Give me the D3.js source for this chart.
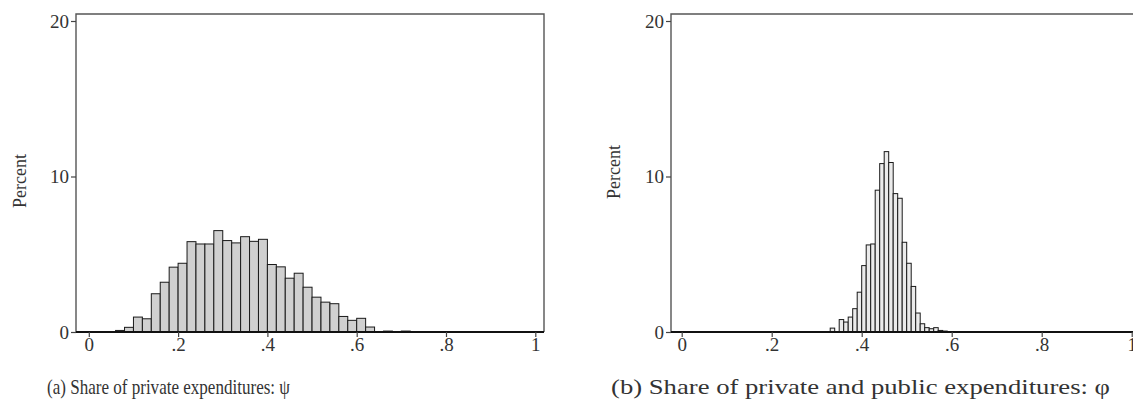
<!DOCTYPE html>
<html>
<head>
<meta charset="utf-8">
<script src="https://cdn.jsdelivr.net/npm/d3@7"></script>
<style>
  html, body { margin: 0; padding: 0; background: #fff; }
  svg { display: block; }
  text { font-family: "Liberation Serif", "DejaVu Serif", serif; fill: #333; }
</style>
</head>
<body>
<svg id="chart" width="1133" height="413"></svg>
<script>
// ---- Data (percent per bin) ----
const leftBinWidth = 0.02;
const leftBinStarts = [0.06, 0.08, 0.10, 0.12, 0.14, 0.16, 0.18, 0.20, 0.22, 0.24, 0.26, 0.28, 0.30, 0.32, 0.34, 0.36, 0.38, 0.40, 0.42, 0.44, 0.46, 0.48, 0.50, 0.52, 0.54, 0.56, 0.58, 0.60, 0.62, 0.64, 0.66, 0.70];
const leftPercent   = [0.10, 0.30, 0.96, 0.85, 2.46, 3.20, 4.17, 4.42, 5.81, 5.66, 5.66, 6.52, 5.88, 5.73, 6.13, 5.83, 5.96, 4.34, 4.19, 3.46, 3.78, 2.88, 2.24, 1.92, 1.82, 1.00, 0.75, 0.88, 0.32, 0.03, 0.06, 0.06];

const rightBinWidth = 0.01;
const rightBinStarts = [0.33, 0.35, 0.36, 0.37, 0.38, 0.39, 0.40, 0.41, 0.42, 0.43, 0.44, 0.45, 0.46, 0.47, 0.48, 0.49, 0.50, 0.51, 0.52, 0.53, 0.54, 0.55, 0.56, 0.57, 0.58];
const rightPercent   = [0.25, 0.80, 0.64, 0.96, 1.50, 2.56, 4.27, 5.60, 5.66, 9.12, 10.83, 11.60, 10.90, 8.90, 8.60, 5.77, 4.42, 2.93, 1.22, 0.53, 0.28, 0.21, 0.28, 0.10, 0.06];

const yTicks = [0, 10, 20];
const xTicks = [0, 0.2, 0.4, 0.6, 0.8, 1];
const xTickLabels = ["0", ".2", ".4", ".6", ".8", "1"];
const yTitle = "Percent";
const captions = ["(a) Share of private expenditures: \u03C8", "(b) Share of private and public expenditures: \u03C6"];

// ---- Drawing ----
const svg = d3.select("#chart");

const panels = [
  { starts: leftBinStarts, values: leftPercent, bw: leftBinWidth,
    frame: [76, 544], xr: [88.8, 535.3], fill: "#d0d0d0",
    titleX: 20, titleY: 181, caption: captions[0], capX: 47, capW: 243 },
  { starts: rightBinStarts, values: rightPercent, bw: rightBinWidth,
    frame: [671, 1150], xr: [681.7, 1131.7], fill: "#ebebeb",
    titleX: 614, titleY: 172, caption: captions[1], capX: 611, capW: 499 }
];

const frameTop = 14;

panels.forEach(p => {
  const g = svg.append("g");
  const x = d3.scaleLinear().domain([0, 1]).range(p.xr);
  const y = d3.scaleLinear().domain([0, 20]).range([332, 21]);
  const base = y(0);

  // bars
  const data = p.starts.map((s, i) => ({ s, v: p.values[i] }));
  g.selectAll("rect.bar").data(data).enter().append("rect")
    .attr("class", "bar")
    .attr("x", d => x(d.s))
    .attr("width", d => x(d.s + p.bw) - x(d.s))
    .attr("y", d => y(d.v))
    .attr("height", d => base - y(d.v))
    .attr("fill", p.fill)
    .attr("stroke", "#1a1a1a")
    .attr("stroke-width", 1);

  // frame (top, left, right)
  g.append("path")
    .attr("d", `M${p.frame[0]},${base} V${frameTop} H${p.frame[1]} V${base}`)
    .attr("fill", "none")
    .attr("stroke", "#555")
    .attr("stroke-width", 1.4);

  // bottom axis line
  g.append("line")
    .attr("x1", p.frame[0]).attr("x2", p.frame[1])
    .attr("y1", base).attr("y2", base)
    .attr("stroke", "#111").attr("stroke-width", 1.8);

  // y axis
  const ya = g.append("g")
    .attr("transform", `translate(${p.frame[0]},0)`)
    .call(d3.axisLeft(y).tickValues(yTicks).tickSize(5).tickPadding(2).tickFormat(d3.format("d")));
  ya.select(".domain").remove();
  ya.selectAll(".tick line").attr("stroke", "#444").attr("stroke-width", 1.2);
  ya.selectAll(".tick text").style("font-family", "Liberation Serif").style("font-size", "19px").attr("fill", "#333");

  // x axis
  const xa = g.append("g")
    .attr("transform", `translate(0,${base})`)
    .call(d3.axisBottom(x).tickValues(xTicks).tickSize(5).tickPadding(1)
      .tickFormat((d, i) => xTickLabels[i]));
  xa.select(".domain").remove();
  xa.selectAll(".tick line").attr("stroke", "#444").attr("stroke-width", 1.2);
  xa.selectAll(".tick text").style("font-family", "Liberation Serif").style("font-size", "19px").attr("fill", "#333");

  // y title
  g.append("text")
    .attr("transform", `translate(${p.titleX},${p.titleY}) rotate(-90)`)
    .attr("text-anchor", "middle")
    .attr("dy", "0.35em")
    .style("font-size", "18px")
    .text(yTitle);

  // caption
  g.append("text")
    .attr("x", p.capX)
    .attr("y", 394)
    .attr("textLength", p.capW)
    .attr("lengthAdjust", "spacingAndGlyphs")
    .style("font-size", "21px")
    .attr("fill", "#222")
    .text(p.caption);
});
</script>
</body>
</html>
